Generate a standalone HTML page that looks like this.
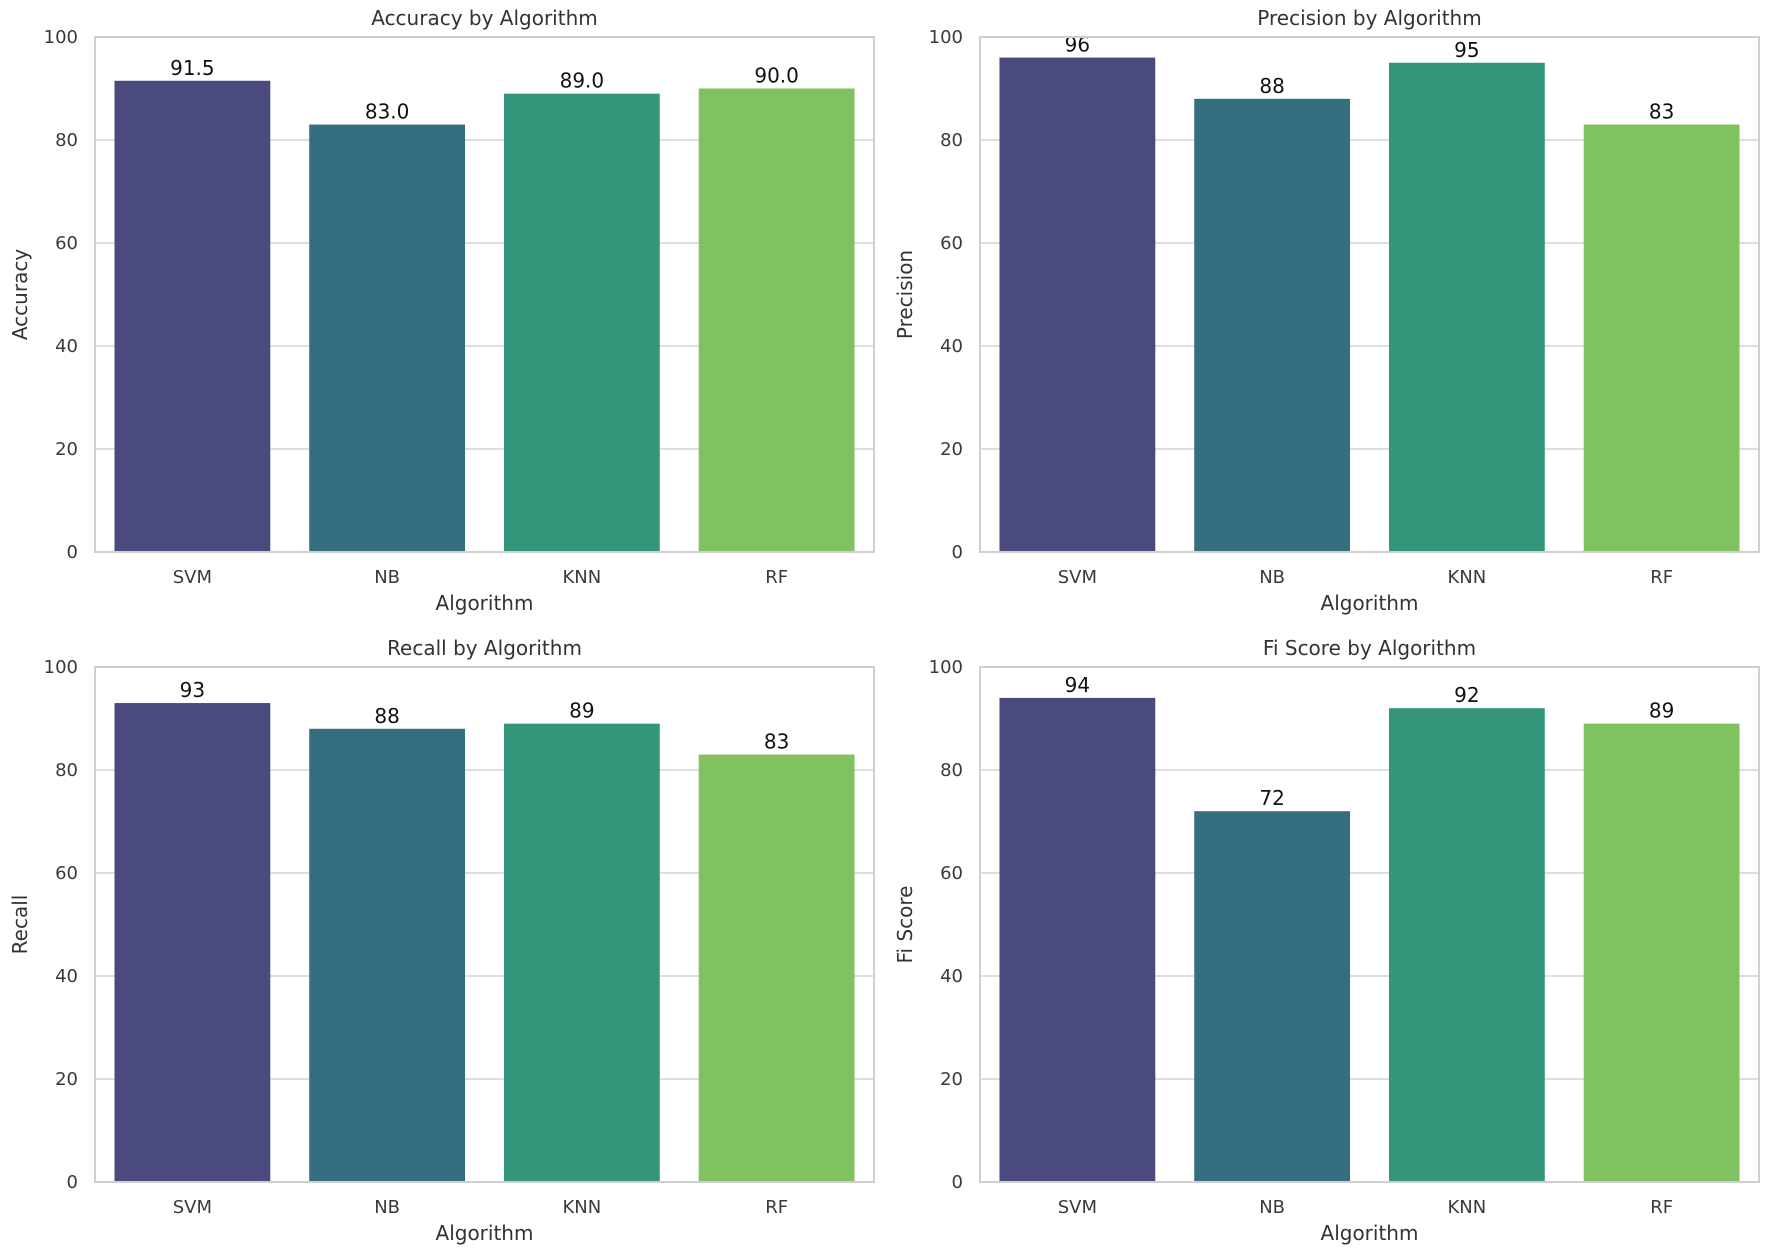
<!DOCTYPE html>
<html><head><meta charset="utf-8">
<style>
html,body{margin:0;padding:0;background:#fff;}
svg{display:block;font-family:"DejaVu Sans","Liberation Sans",sans-serif;}
</style></head>
<body>
<svg id="fig" width="1772" height="1256" viewBox="0 0 1772 1256" xmlns="http://www.w3.org/2000/svg"></svg>
<script>
const categories = ["SVM","NB","KNN","RF"];
const accuracyValues = [91.5, 83.0, 89.0, 90.0];
const accuracyLabels = ["91.5","83.0","89.0","90.0"];
const precisionValues = [96, 88, 95, 83];
const recallValues = [93, 88, 89, 83];
const f1Values = [94, 72, 92, 89];
const yTicks = [0, 20, 40, 60, 80, 100];
const colors = ["#4a4a7e","#356f7f","#33967a","#80c262"];

const NS = "http://www.w3.org/2000/svg";
const svg = document.getElementById("fig");
function mk(tag, attrs, parent){
  const e = document.createElementNS(NS, tag);
  for (const k in attrs) e.setAttribute(k, attrs[k]);
  (parent||svg).appendChild(e);
  return e;
}
const panels = [
  {title:"Accuracy by Algorithm", ylabel:"Accuracy", vals:accuracyValues, labels:accuracyLabels, x0:95, y0:37, name:"accuracy"},
  {title:"Precision by Algorithm", ylabel:"Precision", vals:precisionValues, labels:precisionValues.map(String), x0:980, y0:37, name:"precision"},
  {title:"Recall by Algorithm", ylabel:"Recall", vals:recallValues, labels:recallValues.map(String), x0:95, y0:667, name:"recall"},
  {title:"Fi Score by Algorithm", ylabel:"Fi Score", vals:f1Values, labels:f1Values.map(String), x0:980, y0:667, name:"f1"}
];
const W = 779, H = 515;
panels.forEach(p => {
  const g = mk("g", {});
  
  
  const yS = v => p.y0 + H - v / 100 * H;
  const step = W / categories.length;
  const xS = i => p.x0 + step * i + step / 2;
  yTicks.forEach(t => {
    const y = yS(t);
    const l = mk("line", {x1:p.x0, x2:p.x0+W, y1:y, y2:y, stroke:"#dedede", "stroke-width":2}, g);
    
    
    const tx = mk("text", {x:p.x0-17, y:y+6, "text-anchor":"end", "font-size":18, fill:"#3a3a3a"}, g);
    tx.textContent = t;
    
    
  });
  categories.forEach((c, i) => {
    const bw = step * 0.8;
    const v = p.vals[i];
    const r = mk("rect", {x:xS(i)-bw/2, y:yS(v), width:bw, height:yS(0)-yS(v), fill:colors[i]}, g);
    
    
    const vt = mk("text", {x:xS(i), y:yS(v)-6, "text-anchor":"middle", "font-size":20, fill:"#111"}, g);
    vt.textContent = p.labels[i];
    
    
    const ct = mk("text", {x:xS(i), y:p.y0+H+31, "text-anchor":"middle", "font-size":18, fill:"#3a3a3a"}, g);
    ct.textContent = c;
    
    
  });
  const fr = mk("rect", {x:p.x0, y:p.y0, width:W, height:H, fill:"none", stroke:"#cfcfcf", "stroke-width":2}, g);
  
  
  const ti = mk("text", {x:p.x0+W/2, y:p.y0-12, "text-anchor":"middle", "font-size":20, fill:"#333"}, g);
  ti.textContent = p.title;
  
  
  const xl = mk("text", {x:p.x0+W/2, y:p.y0+H+58, "text-anchor":"middle", "font-size":20, fill:"#333"}, g);
  xl.textContent = "Algorithm";
  
  
  const yx = p.x0 - 68, yy = p.y0 + H/2;
  const yl = mk("text", {x:yx, y:yy, "text-anchor":"middle", "font-size":20, fill:"#333", transform:`rotate(-90 ${yx} ${yy})`}, g);
  yl.textContent = p.ylabel;
  
  
});
</script>
</body></html>
